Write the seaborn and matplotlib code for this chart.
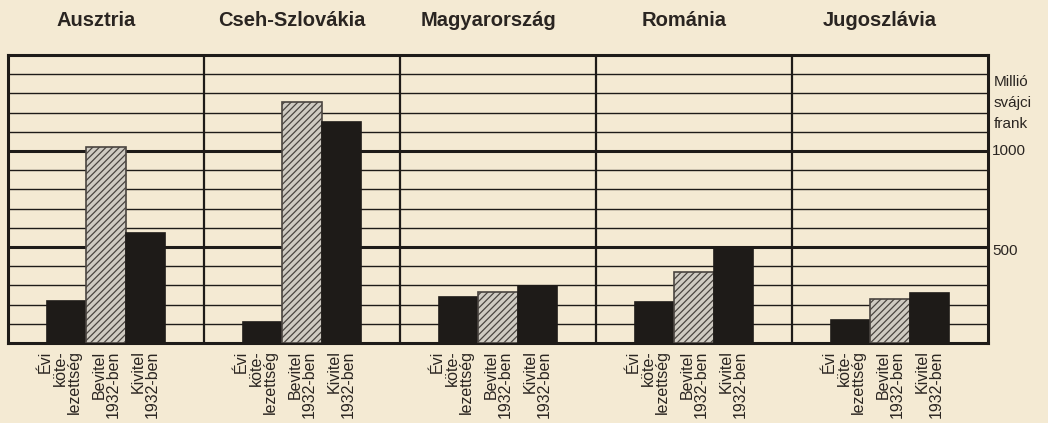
import numpy as np
import pandas as pd
import matplotlib
matplotlib.use("Agg")
import matplotlib.pyplot as plt
from matplotlib.transforms import blended_transform_factory
import seaborn as sns

# values (million Swiss francs)
countries = ["Ausztria", "Cseh-Szlovákia", "Magyarország", "Románia", "Jugoszlávia"]
series = ["Évi\nköte-\nlezettség", "Bevitel\n1932-ben", "Kivitel\n1932-ben"]
evi = [220, 110, 237, 215, 120]
bevitel = [1023, 1253, 268, 370, 228]
kivitel = [574, 1153, 298, 495, 258]
y_labels = [500, 1000]
unit_label = "Millió\nsvájci\nfrank"

paper = "#f4ead3"
ink = "#1e1b18"
txt = "#2a2521"

df = pd.DataFrame({
    "country": countries * 3,
    "series": np.repeat(series, len(countries)),
    "value": evi + bevitel + kivitel,
})

sns.set_style("white")
plt.rcParams["font.family"] = ["Liberation Sans", "DejaVu Sans"]
plt.rcParams["hatch.linewidth"] = 0.9

fig = plt.figure(figsize=(10.48, 4.23), dpi=100, facecolor=paper)
ax = fig.add_axes([8 / 1048, 1 - 343 / 423, 980 / 1048, 288 / 423])
ax.set_facecolor(paper)

sns.barplot(data=df, x="country", y="value", hue="series", order=countries,
            hue_order=series, palette=[ink, "#cfcbc2", ink], width=0.6,
            saturation=1, legend=False, ax=ax, zorder=3)

for j, cont in enumerate(ax.containers):
    for bar in cont:
        bar.set_edgecolor(ink)
        bar.set_linewidth(1.2)
        if j == 1:
            bar.set_hatch("/////")
            bar.set_edgecolor("#4a4540")

ax.set_xlim(-0.5, 4.5)
ax.set_ylim(0, 1500)

# grid every 100, heavier at 500 and 1000
for v in range(100, 1500, 100):
    ax.axhline(v, color=ink, lw=2.2 if v % 500 == 0 else 1.0, zorder=1)
for i in range(len(countries) - 1):
    ax.axvline(i + 0.5, color=ink, lw=1.6, zorder=2)

for s in ax.spines.values():
    s.set_visible(True)
    s.set_color(ink)
    s.set_linewidth(2.2)
ax.set_xticks([])
ax.set_yticks([])
ax.set_xlabel("")
ax.set_ylabel("")

# country titles
for i, c in enumerate(countries):
    ax.text(i - 0.05, 1.12, c, transform=blended_transform_factory(ax.transData, ax.transAxes),
            ha="center", va="center", fontsize=14.5, fontweight="bold", color=txt)

# rotated labels under each bar
lab_tr = blended_transform_factory(ax.transData, ax.transAxes)
for i in range(len(countries)):
    for j, s in enumerate(series):
        x = i + (j - 1) * 0.2 - (0.035 if j == 0 else 0)
        ax.text(x, -0.026, s, transform=lab_tr, rotation=90, ha="center", va="top",
                multialignment="right", linespacing=0.95, fontsize=11.5, color=txt)

# right-hand scale
r_tr = blended_transform_factory(ax.transAxes, ax.transData)
ax.text(1.004, 1000, "1000", transform=r_tr, ha="left", va="center", fontsize=11, color=txt)
ax.text(1.004, 480, "500", transform=r_tr, ha="left", va="center", fontsize=11, color=txt)
ax.text(1.006, 1250, unit_label, transform=r_tr, ha="left", va="center", fontsize=11,
        linespacing=1.6, color=txt)

fig.savefig("out.png", dpi=100, facecolor=paper)
